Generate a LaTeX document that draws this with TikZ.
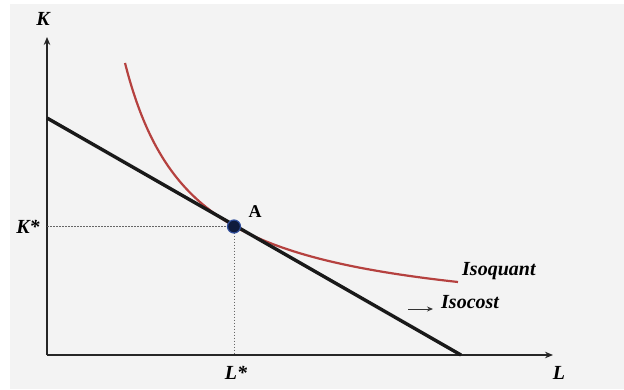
\documentclass[tikz,border=0pt]{standalone}
\usepackage{fontspec}
\setmainfont{Liberation Serif}
\usetikzlibrary{arrows.meta}
\definecolor{bg}{HTML}{F3F3F3}
\definecolor{curvered}{HTML}{B5413F}
\definecolor{dotfill}{HTML}{0F1B3D}
\definecolor{dotedge}{HTML}{2E4C9A}
\tikzset{
  lbl/.style={font=\fontsize{20}{23}\selectfont\bfseries\itshape, inner sep=0pt},
  axis/.style={line width=2.4pt, draw=black!85, -{Stealth[length=8pt,width=6.5pt]}},
  isocostline/.style={line width=3.4pt, black!90},
  isoquantline/.style={line width=2.2pt, curvered},
  guide/.style={dash pattern=on 1.5pt off 1.5pt, line width=1pt, black!60},
  pointer/.style={line width=0.9pt, black!80, -{Stealth[length=6pt,width=5pt]}},
  dot/.style={circle, fill=dotfill, draw=dotedge, line width=1.2pt, minimum size=13pt, inner sep=0pt}
}
\begin{document}
\begin{tikzpicture}[x=1pt,y=-1pt]
\useasboundingbox (0,0) rectangle (624,389);
\fill[white] (0,0) rectangle (624,389);
\fill[bg] (10,4) rectangle (624,389);
% axes
\coordinate (O) at (47,355);
\coordinate (Ktop) at (47,37);
\coordinate (Lend) at (553,355);
\draw[axis] (O) -- (Ktop);
\draw[axis] (O) -- (Lend);
\node[lbl] (Klab) at (43,19) {K};
\node[lbl] (Llab) at (559,373) {L};
% isocost
\coordinate (C1) at (47,118);
\coordinate (C2) at (461,355);
% isoquant
\draw[isoquantline] plot[domain=78:411, samples=120, smooth, variable=\u]
  ({47+\u}, {355-29.04-175.79/((\u-11.15)/100)});
\draw[isocostline] (C1) -- (C2);
% point A
\coordinate (Apos) at (234,226.5);
\coordinate (Ky) at (47,226.5);
\coordinate (Lx) at (234,355);
\draw[guide] (Ky) -- (Apos);
\draw[guide] (Apos) -- (Lx);
\node[dot] (A) at (Apos) {};
\node[lbl, font=\fontsize{18}{21}\selectfont\bfseries] (Alab) at (255,212) {A};
\node[lbl] (Kstar) at (28,227) {K*};
\node[lbl] (Lstar) at (236,373) {L*};
% labels
\node[lbl, anchor=west] (isoq) at (462,271) {Isoquant};
\node[lbl, anchor=west] (isoc) at (441,302) {Isocost};
\coordinate (ptrstart) at (408,309);
\coordinate (ptrend) at (433,309);
\draw[pointer] (ptrstart) -- (ptrend);
\end{tikzpicture}
\end{document}
